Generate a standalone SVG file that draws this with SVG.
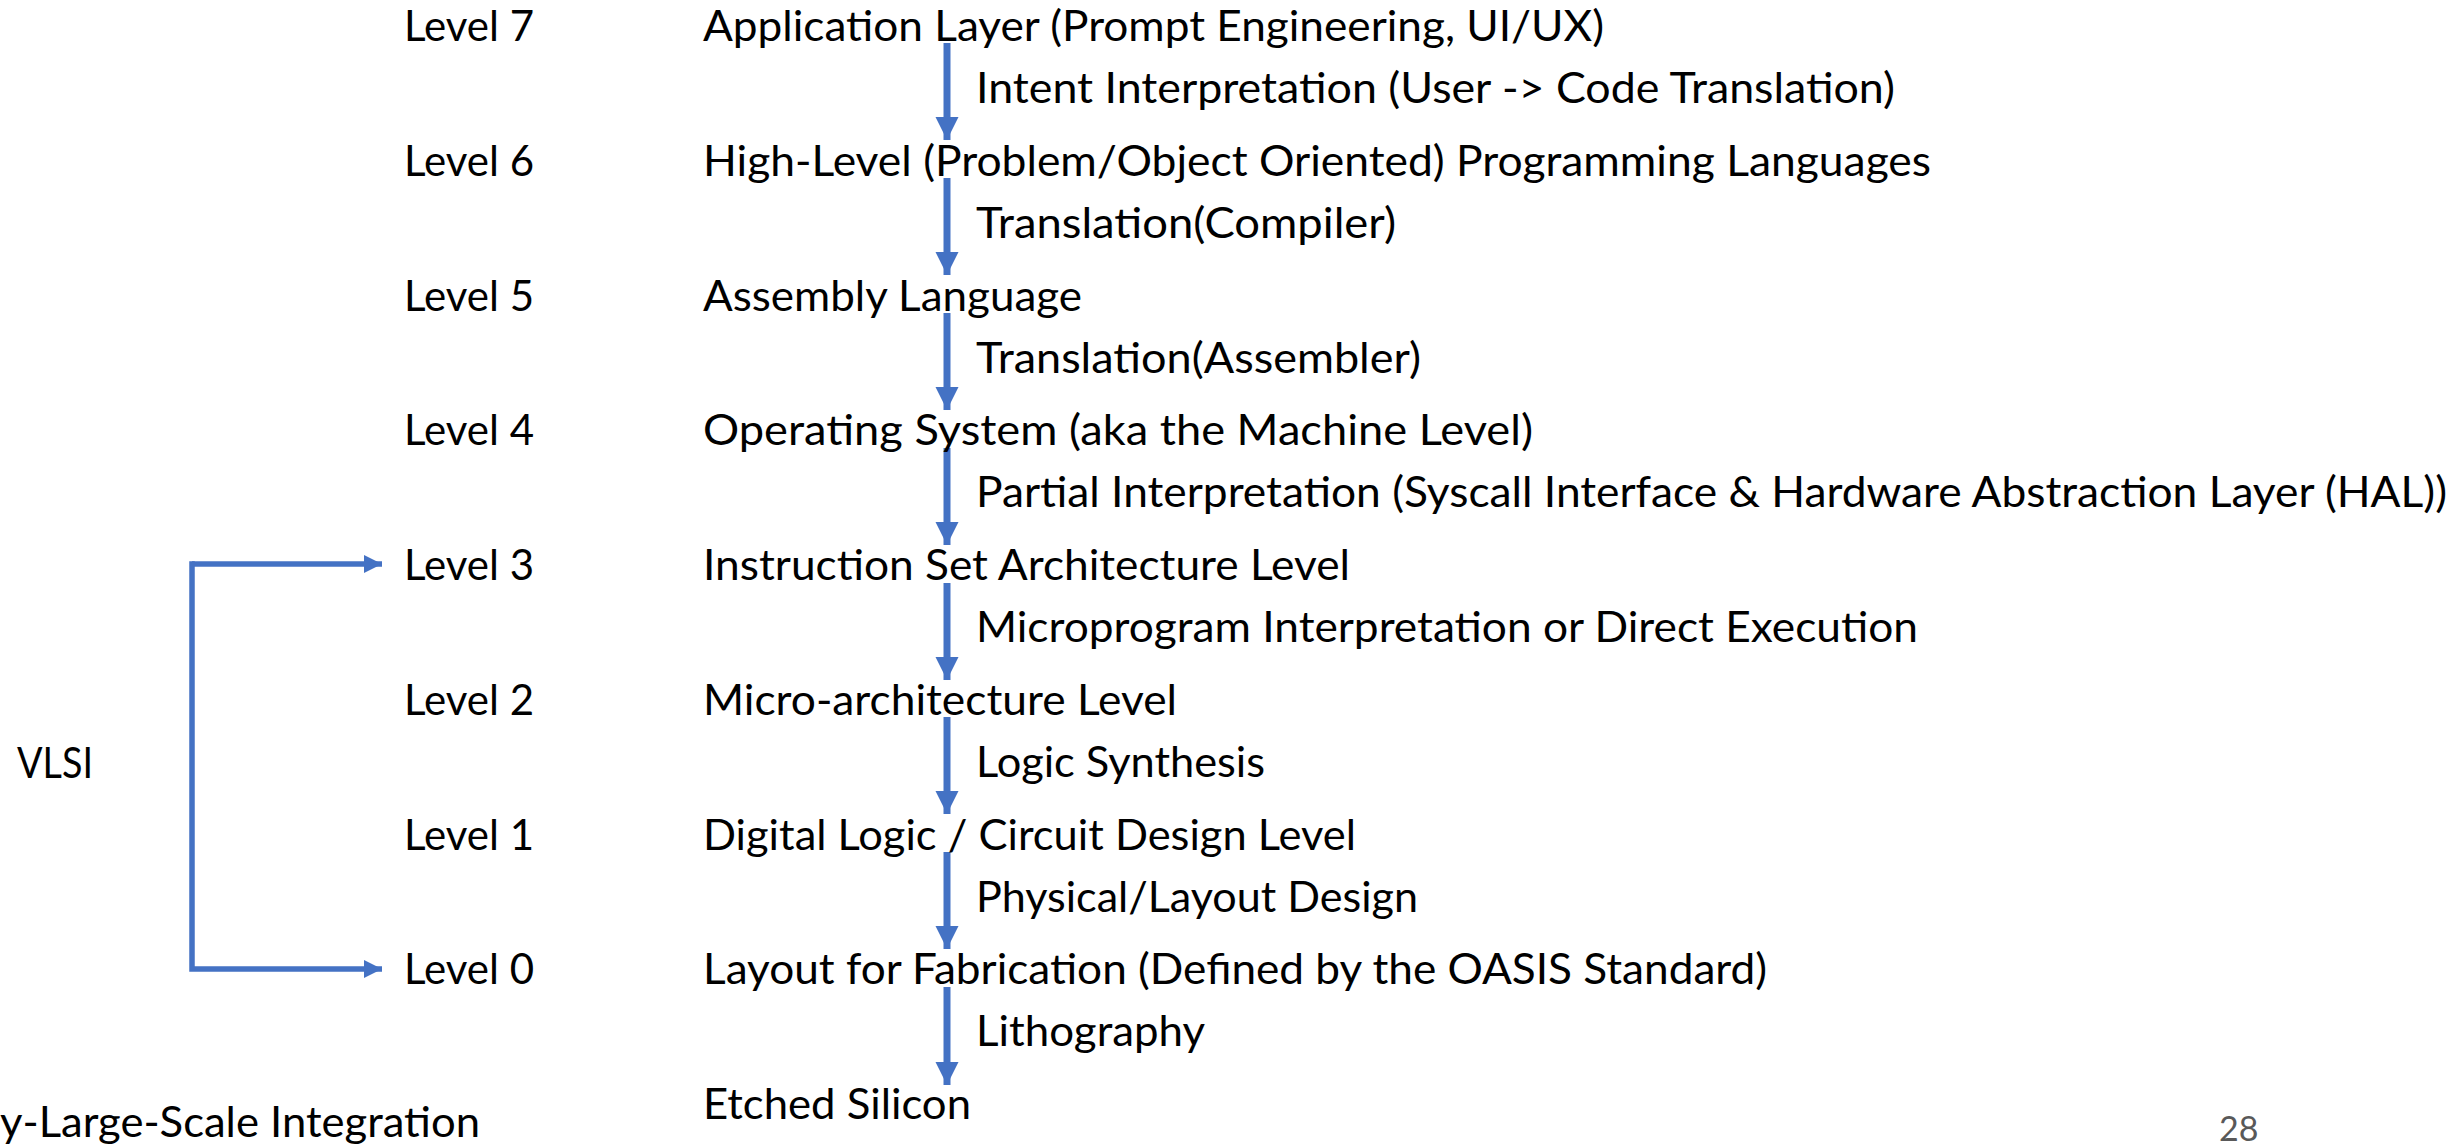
<svg xmlns="http://www.w3.org/2000/svg" width="2458" height="1147" viewBox="0 0 2458 1147">
<style>
text{font-family:"Lato","Open Sans","Liberation Sans",sans-serif;font-size:42px;fill:#000}
.pg{font-size:34px;fill:#595959}
.ar{stroke:#4472C4;stroke-width:7;fill:none}
.br{stroke:#4472C4;stroke-width:5.5;fill:none}
</style>
<defs>
<marker id="ah" markerUnits="userSpaceOnUse" markerWidth="24" markerHeight="24" refX="23" refY="11.5" orient="auto"><path d="M0,0 L23,11.5 L0,23 z" fill="#4472C4"/></marker>
<marker id="ah2" markerUnits="userSpaceOnUse" markerWidth="20" markerHeight="20" refX="18" refY="9" orient="auto"><path d="M0,0 L18,9 L0,18 z" fill="#4472C4"/></marker>
</defs>
<g id="connectors">
<line class="ar" x1="947" y1="43" x2="947" y2="140" marker-end="url(#ah)"/>
<line class="ar" x1="947" y1="178" x2="947" y2="275" marker-end="url(#ah)"/>
<line class="ar" x1="947" y1="313" x2="947" y2="410" marker-end="url(#ah)"/>
<line class="ar" x1="947" y1="448" x2="947" y2="545" marker-end="url(#ah)"/>
<line class="ar" x1="947" y1="583" x2="947" y2="680" marker-end="url(#ah)"/>
<line class="ar" x1="947" y1="717" x2="947" y2="814" marker-end="url(#ah)"/>
<line class="ar" x1="947" y1="852" x2="947" y2="949" marker-end="url(#ah)"/>
<line class="ar" x1="947" y1="987" x2="947" y2="1085" marker-end="url(#ah)"/>
<path class="br" d="M192,564 H382" marker-end="url(#ah2)"/>
<path class="br" d="M192,561.25 V969 H382" marker-end="url(#ah2)"/>
</g>
<g id="levels">
<text x="404" y="41" textLength="130" lengthAdjust="spacingAndGlyphs">Level 7</text>
<text x="404" y="175.75" textLength="130" lengthAdjust="spacingAndGlyphs">Level 6</text>
<text x="404" y="310.5" textLength="130" lengthAdjust="spacingAndGlyphs">Level 5</text>
<text x="404" y="445.25" textLength="130" lengthAdjust="spacingAndGlyphs">Level 4</text>
<text x="404" y="580" textLength="130" lengthAdjust="spacingAndGlyphs">Level 3</text>
<text x="404" y="714.75" textLength="130" lengthAdjust="spacingAndGlyphs">Level 2</text>
<text x="404" y="849.5" textLength="130" lengthAdjust="spacingAndGlyphs">Level 1</text>
<text x="404" y="984.25" textLength="130" lengthAdjust="spacingAndGlyphs">Level 0</text>
</g>
<g id="node-l7"><text x="703" y="41" textLength="901" lengthAdjust="spacingAndGlyphs">Application Layer (Prompt Engineering, UI/UX)</text></g>
<g id="node-l6"><text x="703" y="175.75" textLength="1228" lengthAdjust="spacingAndGlyphs">High-Level (Problem/Object Oriented) Programming Languages</text></g>
<g id="node-l5"><text x="703" y="310.5" textLength="379" lengthAdjust="spacingAndGlyphs">Assembly Language</text></g>
<g id="node-l4"><text x="703" y="445.25" textLength="830" lengthAdjust="spacingAndGlyphs">Operating System (aka the Machine Level)</text></g>
<g id="node-l3"><text x="703" y="580" textLength="647" lengthAdjust="spacingAndGlyphs">Instruction Set Architecture Level</text></g>
<g id="node-l2"><text x="703" y="714.75" textLength="474" lengthAdjust="spacingAndGlyphs">Micro-architecture Level</text></g>
<g id="node-l1"><text x="703" y="849.5" textLength="653" lengthAdjust="spacingAndGlyphs">Digital Logic / Circuit Design Level</text></g>
<g id="node-l0"><text x="703" y="984.25" textLength="1064" lengthAdjust="spacingAndGlyphs">Layout for Fabrication (Defined by the OASIS Standard)</text></g>
<g id="node-etched"><text x="703" y="1119" textLength="268" lengthAdjust="spacingAndGlyphs">Etched Silicon</text></g>
<g id="edge-labels">
<text x="976" y="103" textLength="919" lengthAdjust="spacingAndGlyphs">Intent Interpretation (User -&gt; Code Translation)</text>
<text x="976" y="237.75" textLength="420" lengthAdjust="spacingAndGlyphs">Translation(Compiler)</text>
<text x="976" y="372.5" textLength="445" lengthAdjust="spacingAndGlyphs">Translation(Assembler)</text>
<text x="976" y="507.25" textLength="1471" lengthAdjust="spacingAndGlyphs">Partial Interpretation (Syscall Interface &amp; Hardware Abstraction Layer (HAL))</text>
<text x="976" y="642" textLength="942" lengthAdjust="spacingAndGlyphs">Microprogram Interpretation or Direct Execution</text>
<text x="976" y="776.75" textLength="289" lengthAdjust="spacingAndGlyphs">Logic Synthesis</text>
<text x="976" y="911.5" textLength="442" lengthAdjust="spacingAndGlyphs">Physical/Layout Design</text>
<text x="976" y="1046.25" textLength="229" lengthAdjust="spacingAndGlyphs">Lithography</text>
</g>
<g id="vlsi">
<text x="17" y="778" textLength="76" lengthAdjust="spacingAndGlyphs">VLSI</text>
<text x="0" y="1137" textLength="480" lengthAdjust="spacingAndGlyphs">y-Large-Scale Integration</text>
</g>
<g id="page"><text class="pg" x="2219" y="1141">28</text></g>
</svg>
